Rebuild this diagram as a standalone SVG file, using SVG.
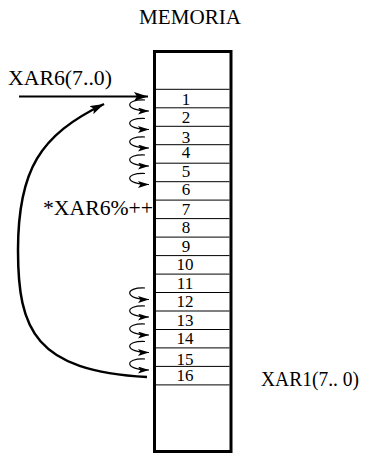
<svg xmlns="http://www.w3.org/2000/svg" width="372" height="455" viewBox="0 0 372 455">
  <style>
    text { font-family: "Liberation Serif", "Times New Roman", serif; fill: #000; }
    .lbl { font-size: 20px; }
    .num { font-size: 17px; text-anchor: middle; }
    .row { stroke: #000; stroke-width: 1; }
    .loop { fill: none; stroke: #000; stroke-width: 1.2; marker-end: url(#tipS); }
  </style>
  <defs>
    <marker id="tipL" viewBox="0 0 14 9" refX="14" refY="4.5" markerWidth="14" markerHeight="9" markerUnits="userSpaceOnUse" orient="auto">
      <path d="M0,0 L14,4.5 L0,9 L3,4.5 Z" fill="#000"/>
    </marker>
    <marker id="tipS" viewBox="0 0 11 7" refX="11" refY="3.5" markerWidth="11" markerHeight="7" markerUnits="userSpaceOnUse" orient="auto">
      <path d="M0,0 L11,3.5 L0,7 L2.5,3.5 Z" fill="#000"/>
    </marker>
  </defs>

  <!-- memory block -->
  <g id="memoria">
    <text class="lbl" x="190" y="24" text-anchor="middle" textLength="102" lengthAdjust="spacingAndGlyphs">MEMORIA</text>
    <rect x="154.5" y="51.5" width="76.5" height="400" fill="#fff" stroke="#000" stroke-width="3"/>
    <g class="rows">
      <line class="row" x1="156" y1="89.3" x2="229.5" y2="89.3"/>
      <line class="row" x1="156" y1="107.8" x2="229.5" y2="107.8"/>
      <line class="row" x1="156" y1="126.3" x2="229.5" y2="126.3"/>
      <line class="row" x1="156" y1="144.7" x2="229.5" y2="144.7"/>
      <line class="row" x1="156" y1="163.2" x2="229.5" y2="163.2"/>
      <line class="row" x1="156" y1="181.7" x2="229.5" y2="181.7"/>
      <line class="row" x1="156" y1="200.1" x2="229.5" y2="200.1"/>
      <line class="row" x1="156" y1="218.6" x2="229.5" y2="218.6"/>
      <line class="row" x1="156" y1="237.1" x2="229.5" y2="237.1"/>
      <line class="row" x1="156" y1="255.6" x2="229.5" y2="255.6"/>
      <line class="row" x1="156" y1="274.1" x2="229.5" y2="274.1"/>
      <line class="row" x1="156" y1="292.5" x2="229.5" y2="292.5"/>
      <line class="row" x1="156" y1="311.0" x2="229.5" y2="311.0"/>
      <line class="row" x1="156" y1="329.5" x2="229.5" y2="329.5"/>
      <line class="row" x1="156" y1="347.9" x2="229.5" y2="347.9"/>
      <line class="row" x1="156" y1="366.4" x2="229.5" y2="366.4"/>
      <line class="row" x1="156" y1="384.9" x2="229.5" y2="384.9"/>
    </g>
    <g class="cells">
      <text class="num" x="186" y="105">1</text>
      <text class="num" x="186" y="123">2</text>
      <text class="num" x="186" y="143">3</text>
      <text class="num" x="186" y="158">4</text>
      <text class="num" x="186" y="177">5</text>
      <text class="num" x="186" y="195">6</text>
      <text class="num" x="186" y="215">7</text>
      <text class="num" x="186" y="233">8</text>
      <text class="num" x="186" y="252">9</text>
      <text class="num" x="185" y="270">10</text>
      <text class="num" x="185" y="289">11</text>
      <text class="num" x="185" y="307">12</text>
      <text class="num" x="185" y="326">13</text>
      <text class="num" x="185" y="344">14</text>
      <text class="num" x="185" y="365">15</text>
      <text class="num" x="185" y="381">16</text>
    </g>
  </g>

  <g id="label-xar6">
    <text class="lbl" x="8" y="85" textLength="104" lengthAdjust="spacingAndGlyphs">XAR6(7..0)</text>
  </g>
  <g id="label-post">
    <text class="lbl" x="43" y="215" textLength="110" lengthAdjust="spacingAndGlyphs">*XAR6%++</text>
  </g>
  <g id="label-xar1">
    <text class="lbl" x="261" y="386" textLength="98" lengthAdjust="spacingAndGlyphs">XAR1(7.. 0)</text>
  </g>

  <!-- pointer arrows -->
  <g id="connectors">
    <line x1="19" y1="96.5" x2="148" y2="96.5" stroke="#000" stroke-width="2" marker-end="url(#tipL)"/>
    <path d="M147,377 C 35,371 18,330 18,250 C 18,170 40,135 104,104" fill="none" stroke="#000" stroke-width="2.5" marker-end="url(#tipL)"/>
    <!-- post-increment steps, rows 1-6 -->
    <path class="loop" d="M145,100 C 124,99 124,111 149,111"/>
    <path class="loop" d="M145,118.5 C 124,117.5 124,129.5 149,129.5"/>
    <path class="loop" d="M145,137 C 124,136 124,148 149,148"/>
    <path class="loop" d="M145,155 C 124,154 124,166 149,166"/>
    <path class="loop" d="M145,173.5 C 124,172.5 124,184.5 149,184.5"/>
    <!-- wrap-around steps, rows 11-16 -->
    <path class="loop" d="M145,288 C 124,287 124,299.5 149,299.5"/>
    <path class="loop" d="M145,306 C 124,305 124,317 149,317"/>
    <path class="loop" d="M145,324 C 124,323 124,335 149,335"/>
    <path class="loop" d="M145,341.5 C 124,340.5 124,352.5 149,352.5"/>
    <path class="loop" d="M145,359 C 124,358 124,370 149,370"/>
  </g>
</svg>
